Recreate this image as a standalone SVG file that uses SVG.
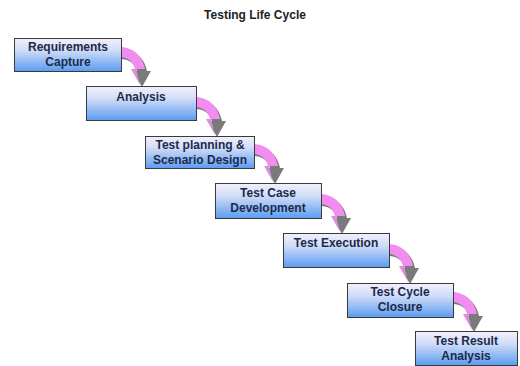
<svg xmlns="http://www.w3.org/2000/svg" width="520" height="366" viewBox="0 0 520 366">
<defs>
<linearGradient id="boxg" x1="0" y1="0" x2="0" y2="1">
<stop offset="0" stop-color="#f2f0fb"/>
<stop offset="0.35" stop-color="#d2ddf8"/>
<stop offset="1" stop-color="#5a9cf0"/>
</linearGradient>
<g id="arrow">
<path d="M1,2 C11,2 24,8 27,24 L31,24 L22,40 L13,24 L17,24 C15,16 8,12 1,12 Z" fill="#7a7a7a"/>
<path d="M0,0 C10,0 22,6 25,22 L15,22 C13,14 7,10 0,10 Z" fill="#f28cf0"/>
<path d="M11,22 L20,38 L16,22 Z" fill="#d890d8"/>
</g>
</defs>
<style>
.box{fill:url(#boxg);stroke:#3a3a3a;stroke-width:1}
.lbl{font-family:"Liberation Sans",Arial,sans-serif;font-weight:bold;font-size:12px;fill:#1c2a4a;text-anchor:middle}
.title{font-family:"Liberation Sans",Arial,sans-serif;font-weight:bold;font-size:12px;fill:#222;text-anchor:middle}
</style>
<rect width="520" height="366" fill="#ffffff"/>
<text class="title" x="255" y="19">Testing Life Cycle</text>
<g id="connectors">
<use href="#arrow" x="120" y="47"/>
<use href="#arrow" x="195" y="97"/>
<use href="#arrow" x="253" y="144"/>
<use href="#arrow" x="320" y="194"/>
<use href="#arrow" x="388" y="244"/>
<use href="#arrow" x="452" y="292"/>
</g>
<g id="n1"><rect class="box" x="14.5" y="38.5" width="107" height="33"/><text class="lbl" x="68" y="51">Requirements</text><text class="lbl" x="68" y="66">Capture</text></g>
<g id="n2"><rect class="box" x="86.5" y="86.5" width="110" height="34"/><text class="lbl" x="141" y="101">Analysis</text></g>
<g id="n3"><rect class="box" x="145.5" y="136.5" width="109" height="32"/><text class="lbl" x="200" y="149">Test planning &amp;</text><text class="lbl" x="200" y="164">Scenario Design</text></g>
<g id="n4"><rect class="box" x="215.5" y="183.5" width="106" height="35"/><text class="lbl" x="268" y="197">Test Case</text><text class="lbl" x="268" y="212">Development</text></g>
<g id="n5"><rect class="box" x="283.5" y="233.5" width="106" height="34"/><text class="lbl" x="336" y="247">Test Execution</text></g>
<g id="n6"><rect class="box" x="347.5" y="283.5" width="106" height="34"/><text class="lbl" x="400" y="296">Test Cycle</text><text class="lbl" x="400" y="311">Closure</text></g>
<g id="n7"><rect class="box" x="415.5" y="331.5" width="102" height="34"/><text class="lbl" x="466" y="345">Test Result</text><text class="lbl" x="466" y="360">Analysis</text></g>
</svg>
